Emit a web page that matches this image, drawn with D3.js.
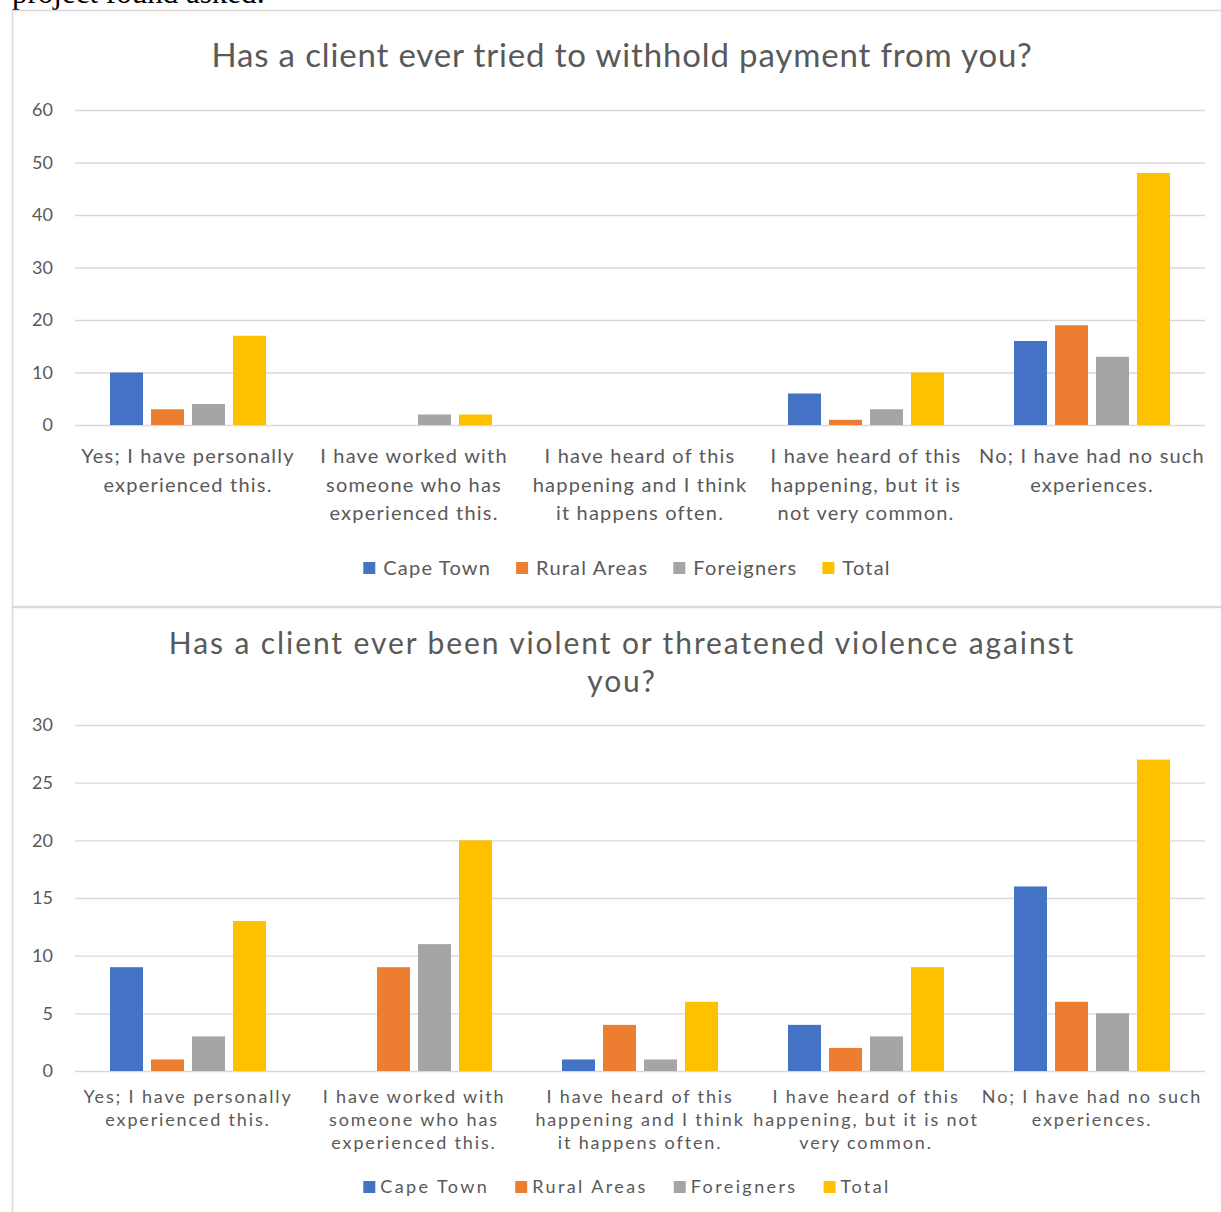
<!DOCTYPE html>
<html>
<head>
<meta charset="utf-8">
<script src="https://cdn.jsdelivr.net/npm/d3@7"></script>
<style>
  body { margin: 0; background: #fff; }
  svg { display: block; }
  text { font-family: Lato, "Open Sans", sans-serif; fill: #595959; }
</style>
</head>
<body>
<svg id="page"></svg>
<script>
// series shared by both charts
const seriesNames = ["Cape Town", "Rural Areas", "Foreigners", "Total"];
const seriesColors = ["#4472C4", "#ED7D31", "#A5A5A5", "#FFC000"];

// chart 1: withholding payment
const paymentTitle = ["Has a client ever tried to withhold payment from you?"];
const paymentCategories = [
    "Yes; I have personally\nexperienced this.",
    "I have worked with\nsomeone who has\nexperienced this.",
    "I have heard of this\nhappening and I think\nit happens often.",
    "I have heard of this\nhappening, but it is\nnot very common.",
    "No; I have had no such\nexperiences."
];
const paymentCapeTown = [10, 0, 0, 6, 16];
const paymentRural = [3, 0, 0, 1, 19];
const paymentForeigners = [4, 2, 0, 3, 13];
const paymentTotal = [17, 2, 0, 10, 48];
const paymentTicks = [0, 10, 20, 30, 40, 50, 60];

// chart 2: violence
const violenceTitle = ["Has a client ever been violent or threatened violence against", "you?"];
const violenceCategories = [
    "Yes; I have personally\nexperienced this.",
    "I have worked with\nsomeone who has\nexperienced this.",
    "I have heard of this\nhappening and I think\nit happens often.",
    "I have heard of this\nhappening, but it is not\nvery common.",
    "No; I have had no such\nexperiences."
];
const violenceCapeTown = [9, 0, 1, 4, 16];
const violenceRural = [1, 9, 4, 2, 6];
const violenceForeigners = [3, 11, 1, 3, 5];
const violenceTotal = [13, 20, 6, 9, 27];
const violenceTicks = [0, 5, 10, 15, 20, 25, 30];

class GroupedBarChart {
    constructor(svg, opts) {
        this.svg = svg;
        this.opts = opts;
    }

    update() {
        const o = this.opts;
        const g = this.svg.append("g");

        // title
        g.append("text")
            .attr("x", 622)
            .attr("text-anchor", "middle")
            .style("font-size", o.titleSize + "px")
            .style("letter-spacing", o.titleSpacing + "px")
            .selectAll("tspan")
            .data(o.title)
            .join("tspan")
            .attr("x", 622)
            .attr("y", (d, i) => o.titleY + i * o.titleLine)
            .text(d => d);

        const rows = o.categories.map((c, i) => {
            let r = { cat: c };
            seriesNames.forEach((s, j) => r[s] = o.values[j][i]);
            return r;
        });

        this.x0 = d3.scaleBand()
            .domain(o.categories)
            .range([75, 1205]);
        this.x1 = d3.scaleBand()
            .domain(seriesNames)
            .range([0, this.x0.bandwidth()])
            .paddingInner(0.195)
            .paddingOuter(0.854);
        this.y = d3.scaleLinear()
            .domain([0, d3.max(o.ticks)])
            .range([o.bottom, o.top]);
        let color = d3.scaleOrdinal().domain(seriesNames).range(seriesColors);

        // y axis + gridlines
        const yAxis = g.append("g")
            .attr("transform", "translate(75,0)")
            .call(d3.axisLeft(this.y).tickValues(o.ticks).tickSize(-1130).tickPadding(22));
        yAxis.select(".domain").remove();
        yAxis.selectAll("line").attr("stroke", "#D9D9D9").attr("stroke-width", 1.3);
        yAxis.selectAll("text")
            .style("font-size", "18px")
            .style("font-family", "Lato, sans-serif")
            .attr("fill", "#595959");

        // bars
        g.append("g")
            .selectAll("g")
            .data(rows)
            .join("g")
            .attr("transform", d => `translate(${this.x0(d.cat)},0)`)
            .selectAll("rect")
            .data(d => seriesNames.map(s => ({ key: s, value: d[s] })))
            .join("rect")
            .attr("x", d => this.x1(d.key))
            .attr("y", d => this.y(d.value))
            .attr("width", this.x1.bandwidth())
            .attr("height", d => this.y(0) - this.y(d.value))
            .attr("fill", d => color(d.key));

        // category labels (wrapped onto several lines)
        const xAxis = g.append("g")
            .attr("transform", `translate(0,${o.bottom})`)
            .call(d3.axisBottom(this.x0).tickSize(0).tickPadding(0));
        xAxis.select(".domain").remove();
        xAxis.selectAll("text")
            .style("font-size", o.labelSize + "px")
            .style("font-family", "Lato, sans-serif")
            .style("letter-spacing", o.labelSpacing + "px")
            .attr("fill", "#595959")
            .attr("dy", null)
            .attr("y", null)
            .text(null)
            .each(function(d) {
                d3.select(this).selectAll("tspan")
                    .data(d.split("\n"))
                    .join("tspan")
                    .attr("x", 0)
                    .attr("y", (t, i) => o.labelY - o.bottom + i * o.labelLine)
                    .text(t => t);
            });

        // legend
        const legend = g.append("g").attr("transform", `translate(0,${o.legendY})`);
        const items = legend.selectAll("g")
            .data(seriesNames)
            .join("g");
        items.append("rect")
            .attr("width", 12).attr("height", 12)
            .attr("y", -6)
            .attr("fill", d => color(d));
        items.append("text")
            .attr("x", o.legendTextGap)
            .attr("dy", "0.35em")
            .style("font-size", o.legendSize + "px")
            .style("letter-spacing", o.legendSpacing + "px")
            .text(d => d);
        let widths = [];
        items.each(function() { widths.push(this.getBBox().width); });
        let total = d3.sum(widths) + o.legendGap * (widths.length - 1);
        let cx = o.legendCenter - total / 2;
        items.attr("transform", (d, i) => {
            let t = `translate(${cx},0)`;
            cx += widths[i] + o.legendGap;
            return t;
        });
    }
}

const svg = d3.select("#page").attr("width", 1221).attr("height", 1212);

// cut-off line of text from the page above
svg.append("text")
    .attr("x", 12).attr("y", 3)
    .style("font-family", "'Liberation Serif', serif")
    .style("font-size", "31px")
    .style("fill", "#000")
    .text("project found asked:");

// chart frames
svg.append("rect").attr("x", 12.5).attr("y", 10.5).attr("width", 1215).attr("height", 596)
    .attr("fill", "none").attr("stroke", "#D9D9D9").attr("stroke-width", 1.5);
svg.append("rect").attr("x", 12.5).attr("y", 607.5).attr("width", 1215).attr("height", 620)
    .attr("fill", "none").attr("stroke", "#D9D9D9").attr("stroke-width", 1.5);

new GroupedBarChart(svg, {
    title: paymentTitle, titleY: 67, titleLine: 38, titleSize: 33, titleSpacing: 0.85,
    categories: paymentCategories,
    values: [paymentCapeTown, paymentRural, paymentForeigners, paymentTotal],
    ticks: paymentTicks, top: 110, bottom: 425,
    labelY: 463, labelLine: 28.5, labelSize: 20, labelSpacing: 1.2,
    legendY: 568, legendSize: 20, legendSpacing: 1.2, legendGap: 25, legendTextGap: 20, legendCenter: 627
}).update();

new GroupedBarChart(svg, {
    title: violenceTitle, titleY: 654, titleLine: 38, titleSize: 30, titleSpacing: 1.9,
    categories: violenceCategories,
    values: [violenceCapeTown, violenceRural, violenceForeigners, violenceTotal],
    ticks: violenceTicks, top: 725, bottom: 1071,
    labelY: 1103, labelLine: 23, labelSize: 18, labelSpacing: 1.85,
    legendY: 1187, legendSize: 18, legendSpacing: 2.4, legendGap: 26, legendTextGap: 17, legendCenter: 627
}).update();
</script>
</body>
</html>
